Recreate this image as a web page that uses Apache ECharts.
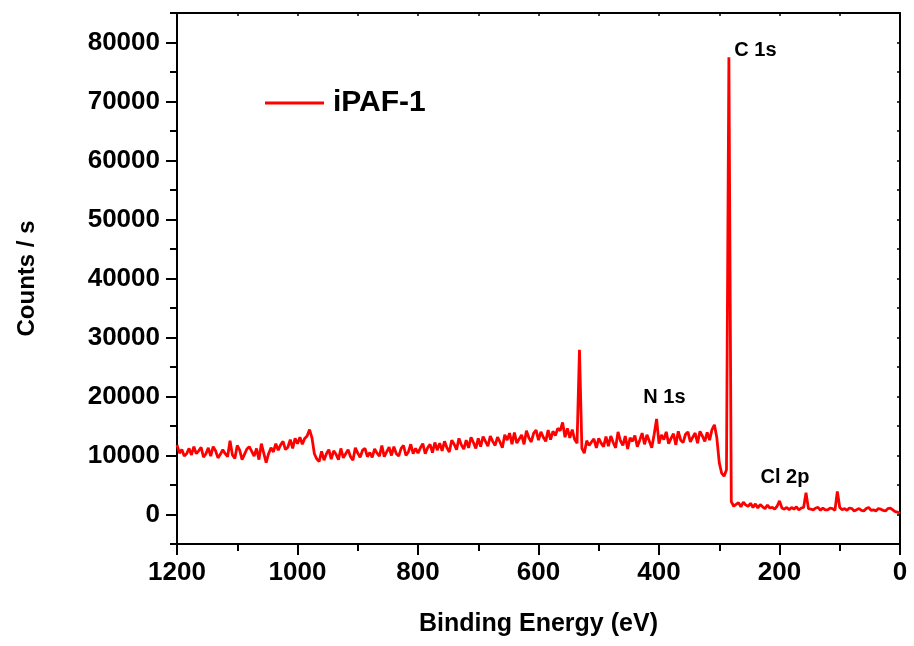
<!DOCTYPE html>
<html>
<head>
<meta charset="utf-8">
<script src="https://cdn.jsdelivr.net/npm/echarts@6/dist/echarts.min.js"></script>
<style>html,body{margin:0;padding:0;background:#fff;}#c{width:914px;height:646px;}</style>
</head>
<body>
<div id="c"></div>
<script>
// Binding energy grid: 1200 eV down to 0 eV in 4 eV steps (one value per entry below)
const startEnergy = 1200;
const energyStep = 4;
// Counts / s, rows of 10 points (40 eV each)
const counts = [
  11800,10400,11000,9900,10300,11200,10100,11500,10300,10800, // 1200-1164
  11400,9700,10300,11300,9900,11500,10800,9600,10200,11000,   // 1160-1124
  10300,9800,12500,10100,9500,11700,10900,9300,10200,11100,   // 1120-1084
  11500,10700,9900,11200,9300,12000,10400,8800,10300,11300,   // 1080-1044
  10600,12000,10900,11800,12400,11000,11400,12700,11200,12900,// 1040-1004
  12000,13100,11900,12900,13300,14400,13000,10300,9400,9000,  // 1000-964
  10700,9200,10300,11000,9400,10800,10200,9300,11200,9600,    // 960-924
  10300,11000,9800,9200,11300,10400,9700,10900,11200,9800,    // 920-884
  10500,9700,11100,10400,9900,11700,9800,10600,11400,10000,   // 880-844
  11500,10300,9900,11200,11700,10000,10600,11900,10300,11200, // 840-804
  10400,11300,12000,10300,11300,11900,10500,12200,10900,12100,// 800-764
  10800,12400,11300,10600,12600,11900,11000,12900,11800,11100,// 760-724
  12600,11300,13100,12200,11200,12900,11500,13200,12400,11600,// 720-684
  13300,12400,11700,13100,12300,11300,13500,12600,13800,11900,// 680-644
  13900,12100,12800,13500,11900,14200,13000,12300,13800,14300,// 640-604
  12600,14000,13100,12400,14300,12700,14100,13400,14600,14200,// 600-564
  15600,13100,14600,13000,14400,12700,12100,27900,11200,10400,// 560-524
  12500,11700,12300,12800,11300,12900,12100,11500,13200,11600,// 520-484
  13300,12200,11300,14000,12500,11700,13300,11100,13000,12400,// 480-444
  13400,11500,12600,13800,11900,13500,12400,11300,13600,16200,// 440-404
  12000,13500,12700,14000,12000,12900,13700,11800,14100,12600,// 400-364
  12200,13600,14000,12300,13100,13800,12100,14100,13300,12400,// 360-324
  13900,12600,14400,15200,13000,8800,7000,6500,7600,77500,    // 320-284
  2200,1400,1700,2000,1300,2100,1600,1400,1900,1200,          // 280-244
  1800,1100,1700,1300,1000,1600,1100,1200,900,1400,           // 240-204
  2300,1100,900,1200,800,1200,900,1300,800,1100,              // 200-164
  1200,3700,1000,900,800,1100,1200,700,1100,800,              // 160-124
  800,1100,1000,700,3900,1200,800,1000,700,1100,              // 120-84
  1000,600,800,1000,700,600,1000,1200,700,800,                // 80-44
  600,1000,900,700,600,1000,1100,800,500,400,                 // 40-4
  200                                                         // 0
];
const seriesName = 'iPAF-1';
// Peak annotations: label, energy (eV), counts at label centre
const peakLabels = ['C 1s', 'N 1s', 'Cl 2p'];
const peakEnergies = [240, 391, 191];
const peakCounts = [78700, 19800, 6300];
// Axis ticks
const yLabelTicks = [0, 10000, 20000, 30000, 40000, 50000, 60000, 70000, 80000];
const yMinorTicks = [-5000, 5000, 15000, 25000, 35000, 45000, 55000, 65000, 75000, 85000];

const lineData = counts.map((v, i) => [startEnergy - energyStep * i, v]);
const annData = peakLabels.map((t, i) => ({ value: [peakEnergies[i], peakCounts[i]], name: t }));

const FONT = "'Liberation Sans', Arial, sans-serif";
const chart = echarts.init(document.getElementById('c'), null, { renderer: 'canvas' });
const axLine = { show: true, onZero: false, lineStyle: { color: '#000', width: 2 } };
const plain = v => String(v);
chart.setOption({
  animation: false,
  backgroundColor: '#fff',
  grid: { left: 177, right: 14, top: 13, bottom: 102, containLabel: false },
  legend: {
    data: [{ name: seriesName, icon: 'rect' }], left: 265, top: 88, padding: 0,
    itemWidth: 59, itemHeight: 3, itemGap: 0,
    itemStyle: { color: '#ff0000', borderWidth: 0 }, lineStyle: { width: 0 },
    textStyle: { fontFamily: FONT, fontWeight: 'bold', fontSize: 30, color: '#000', padding: [0, 0, 0, 4] }
  },
  xAxis: [
    {
      type: 'value', min: 0, max: 1200, interval: 200, inverse: true, position: 'bottom',
      name: 'Binding Energy (eV)', nameLocation: 'middle', nameGap: 68,
      nameTextStyle: { fontFamily: FONT, fontWeight: 'bold', fontSize: 25, color: '#000' },
      axisLine: axLine,
      axisTick: { show: true, length: 11, lineStyle: { color: '#000', width: 2 } },
      minorTick: { show: true, splitNumber: 2, length: 7, lineStyle: { color: '#000', width: 2 } },
      axisLabel: { formatter: plain, fontFamily: FONT, fontWeight: 'bold', fontSize: 26, color: '#000', margin: 16 },
      splitLine: { show: false }, minorSplitLine: { show: false }
    },
    {
      type: 'value', min: 0, max: 1200, interval: 100, inverse: true, position: 'top',
      axisLine: axLine, axisTick: { show: true, inside: true, length: 3, lineStyle: { color: '#000', width: 1.5 } },
      axisLabel: { show: false }, splitLine: { show: false }
    }
  ],
  yAxis: [
    {
      type: 'value', min: -5000, max: 85000, position: 'left',
      name: 'Counts / s', nameLocation: 'middle', nameGap: 138, nameRotate: 90,
      nameTextStyle: { fontFamily: FONT, fontWeight: 'bold', fontSize: 24, color: '#000' },
      axisLine: axLine,
      axisTick: { show: true, length: 11, customValues: yLabelTicks, lineStyle: { color: '#000', width: 2 } },
      axisLabel: { customValues: yLabelTicks, formatter: plain, fontFamily: FONT, fontWeight: 'bold', fontSize: 26, color: '#000', margin: 17 },
      splitLine: { show: false }
    },
    {
      type: 'value', min: -5000, max: 85000, position: 'left',
      axisLine: axLine,
      axisTick: { show: true, length: 7, customValues: yMinorTicks, lineStyle: { color: '#000', width: 2 } },
      axisLabel: { show: false }, splitLine: { show: false }
    },
    {
      type: 'value', min: -5000, max: 85000, interval: 5000, position: 'right',
      axisLine: axLine,
      axisTick: { show: true, inside: true, length: 3, lineStyle: { color: '#000', width: 1.5 } },
      axisLabel: { show: false }, splitLine: { show: false }
    }
  ],
  series: [
    {
      name: seriesName, type: 'line', data: lineData, symbol: 'none', showSymbol: false,
      xAxisIndex: 0, yAxisIndex: 0,
      lineStyle: { color: '#ff0000', width: 2.8 }, itemStyle: { color: '#ff0000' }, z: 3
    },
    {
      name: 'labels', type: 'scatter', data: annData, symbol: 'rect', symbolSize: 0.01, xAxisIndex: 0, yAxisIndex: 0,
      itemStyle: { color: '#ffffff', opacity: 1 }, silent: true, z: 4,
      label: {
        show: true, position: 'inside', formatter: p => p.name, opacity: 1,
        textBorderWidth: 0, fontFamily: FONT, fontWeight: 'bold', fontSize: 20, color: '#000000'
      }
    }
  ]
});
</script>
</body>
</html>
